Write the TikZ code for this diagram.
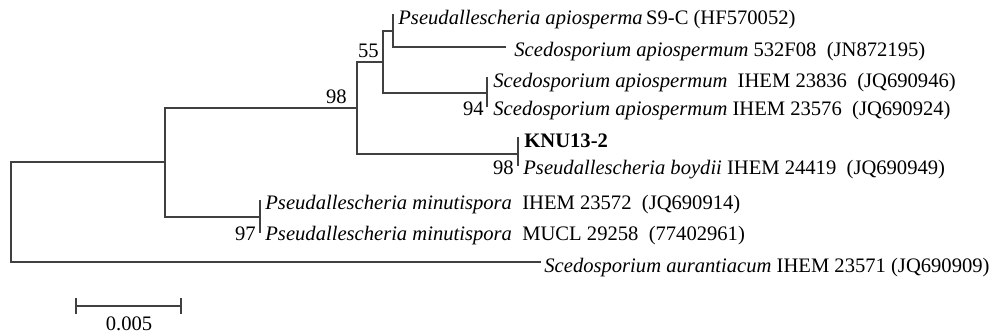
\documentclass[tikz,border=0pt]{standalone}
\usepackage{fontspec}
\setmainfont{Liberation Serif}
\begin{document}
\begin{tikzpicture}[x=0.5pt,y=-0.5pt,
  branch/.style={draw=black!75,line width=0.65pt,line cap=rect},
  taxon/.style={anchor=base west,inner sep=0pt,font=\fontsize{10.3}{12}\selectfont},
  boot/.style={anchor=base east,inner sep=0pt,font=\fontsize{10.3}{12}\selectfont},
  scalelabel/.style={anchor=base,inner sep=0pt,font=\fontsize{10.3}{12}\selectfont}]
\useasboundingbox (0,0) rectangle (994,336);

% internal nodes (x = distance from root, y = vertical extent)
\coordinate (R1) at (11,162);  \coordinate (R2) at (11,262);
\coordinate (A1) at (165,108); \coordinate (A2) at (165,217);
\coordinate (B1) at (357,62);  \coordinate (B2) at (357,154);
\coordinate (C1) at (383,31);  \coordinate (C2) at (383,93);
\coordinate (D1) at (393,15);  \coordinate (D2) at (393,47);
\coordinate (E1) at (487,78);  \coordinate (E2) at (487,106);
\coordinate (K1) at (518,138); \coordinate (K2) at (518,165);
\coordinate (F1) at (260,201); \coordinate (F2) at (260,232);
% tips with non-zero branch length
\coordinate (L2) at (505,47);
\coordinate (L9) at (540,262);

% branches
\draw[branch] (R1) -- (R2) -- (L9);
\draw[branch] (R1) -- (R1 -| A1);
\draw[branch] (A1) -- (A2) -- (A2 -| F1);
\draw[branch] (A1) -- (A1 -| B1);
\draw[branch] (F1) -- (F2);
\draw[branch] (B1) -- (B2) -- (B2 -| K1);
\draw[branch] (B1) -- (B1 -| C1);
\draw[branch] (K1) -- (K2);
\draw[branch] (C1) -- (C2) -- (C2 -| E1);
\draw[branch] (C1) -- (C1 -| D1);
\draw[branch] (E1) -- (E2);
\draw[branch] (D1) -- (D2) -- (L2);

% taxa
\node[taxon] (t1) at (398,25) {\textit{Pseudallescheria apiosperma}\,S9-C (HF570052)};
\node[taxon] (t2) at (514,57) {\textit{Scedosporium apiospermum} 532F08~ (JN872195)};
\node[taxon] (t3) at (493,88) {\textit{Scedosporium apiospermum}~ IHEM 23836~ (JQ690946)};
\node[taxon] (t4) at (493,116) {\textit{Scedosporium apiospermum} IHEM 23576~ (JQ690924)};
\node[taxon] (t5) at (524,148) {\textbf{KNU13-2}};
\node[taxon] (t6) at (523,175) {\textit{Pseudallescheria boydii} IHEM 24419~ (JQ690949)};
\node[taxon] (t7) at (265,210) {\textit{Pseudallescheria minutispora}~ IHEM 23572~ (JQ690914)};
\node[taxon] (t8) at (265,241) {\textit{Pseudallescheria minutispora}~ MUCL 29258~ (77402961)};
\node[taxon] (t9) at (544,272) {\textit{Scedosporium aurantiacum} IHEM 23571 (JQ690909)};

% bootstrap values
\node[boot] (bB) at (347,104) {98};
\node[boot] (bC) at (379,58) {55};
\node[boot] (bE) at (484,116) {94};
\node[boot] (bK) at (514,175) {98};
\node[boot] (bF) at (256,241) {97};

% scale bar
\coordinate (S1) at (76,306);
\coordinate (S2) at (181,306);
\draw[branch,line cap=butt] (S1) -- (S2);
\draw[branch,line cap=butt] ([yshift=4]S1) -- ([yshift=-4]S1);
\draw[branch,line cap=butt] ([yshift=4]S2) -- ([yshift=-4]S2);
\node[scalelabel] (sl) at (129,330) {0.005};
\end{tikzpicture}
\end{document}
